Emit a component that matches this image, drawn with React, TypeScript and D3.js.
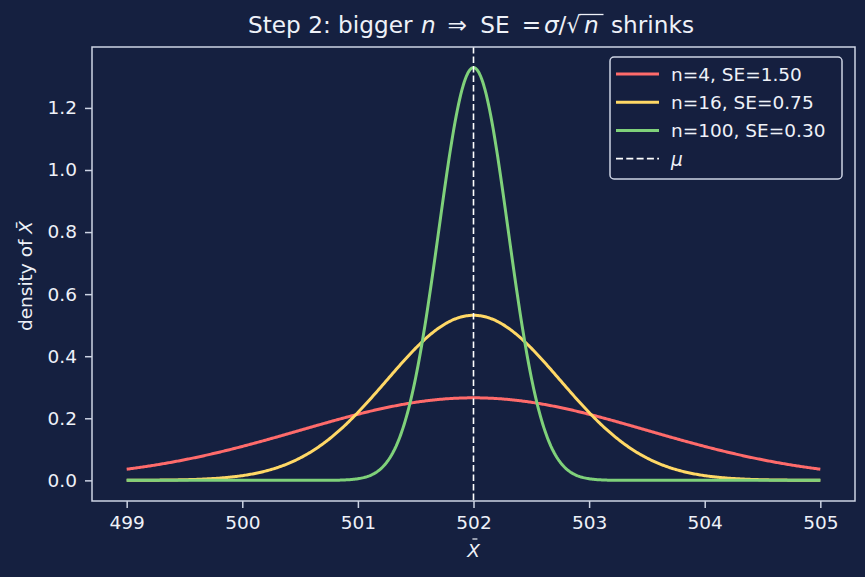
import React, { useEffect, useRef } from 'react';
import * as d3 from 'd3';

const mu = 502;
const sampleSizes = [4, 16, 100];
const standardErrors = [1.5, 0.75, 0.3];
const seriesColors = ['#ff6b6b', '#ffd866', '#7fd17a'];
const xTicks = [499, 500, 501, 502, 503, 504, 505];
const yTicks = [0, 0.2, 0.4, 0.6, 0.8, 1.0, 1.2];
const xDomain = [499, 505];

const W = 865;
const H = 577;
const BG = '#152040';
const FG = '#eef1f8';
const SPINE = '#cdd4e4';
const FONT = 'DejaVu Sans, sans-serif';
const FS = 18.5;

const normalPdf = (x: number, m: number, s: number) =>
  Math.exp(-0.5 * ((x - m) / s) ** 2) / (s * Math.sqrt(2 * Math.PI));

const App = () => {
  const ref = useRef<SVGSVGElement | null>(null);

  useEffect(() => {
    const svg = d3.select(ref.current);
    svg.selectAll('*').remove();

    const left = 92, right = 855, top = 47, bottom = 501;

    const pad = (xDomain[1] - xDomain[0]) * 0.05;
    const x = d3.scaleLinear().domain([xDomain[0] - pad, xDomain[1] + pad]).range([left, right]);
    const yMax = d3.max(standardErrors.map(s => normalPdf(mu, mu, s))) as number;
    const ypad = yMax * 0.05;
    const y = d3.scaleLinear().domain([-ypad, yMax + ypad]).range([bottom, top]);

    svg.append('rect').attr('width', W).attr('height', H).attr('fill', BG);

    const xs = d3.range(0, 601).map(i => xDomain[0] + (i / 600) * (xDomain[1] - xDomain[0]));
    const line = d3.line<[number, number]>().x(d => x(d[0])).y(d => y(d[1]));

    standardErrors.forEach((se, i) => {
      svg.append('path')
        .attr('d', line(xs.map(v => [v, normalPdf(v, mu, se)] as [number, number])))
        .attr('fill', 'none')
        .attr('stroke', seriesColors[i])
        .attr('stroke-width', 3)
        .attr('stroke-linejoin', 'round');
    });

    svg.append('line')
      .attr('x1', x(mu)).attr('x2', x(mu))
      .attr('y1', top).attr('y2', bottom)
      .attr('stroke', '#ffffff')
      .attr('stroke-width', 1.6)
      .attr('stroke-dasharray', '6.5,3');

    svg.append('rect')
      .attr('x', left).attr('y', top)
      .attr('width', right - left).attr('height', bottom - top)
      .attr('fill', 'none').attr('stroke', SPINE).attr('stroke-width', 1.5);

    const xAxis = svg.append('g').attr('transform', `translate(0,${bottom})`)
      .call(d3.axisBottom(x).tickValues(xTicks).tickSize(7).tickPadding(8).tickFormat(d3.format('d')));
    const yAxis = svg.append('g').attr('transform', `translate(${left},0)`)
      .call(d3.axisLeft(y).tickValues(yTicks).tickSize(7).tickPadding(8).tickFormat(d3.format('.1f')));
    [xAxis, yAxis].forEach(g => {
      g.select('.domain').remove();
      g.selectAll('line').attr('stroke', SPINE).attr('stroke-width', 1.5);
      g.selectAll('text').attr('fill', FG).attr('font-family', FONT).attr('font-size', FS);
    });

    // title, pieces placed like matplotlib mathtext
    const tfs = 23.2;
    const ty = 33;
    const piece = (tx: number, s: string, italic = false) =>
      svg.append('text')
        .attr('x', tx).attr('y', ty)
        .attr('fill', FG).attr('font-family', FONT).attr('font-size', tfs)
        .attr('font-style', italic ? 'italic' : 'normal')
        .text(s);
    piece(248, 'Step 2: bigger');
    piece(421, 'n', true);
    piece(447.5, '\u21D2');
    piece(480.2, 'SE');
    piece(521.7, '=');
    piece(544, '\u03C3', true);
    piece(558.5, '/');
    piece(566.5, '\u221A')
      .attr('textLength', 14).attr('lengthAdjust', 'spacingAndGlyphs');
    piece(584, 'n', true);
    piece(611, 'shrinks');
    svg.append('line')
      .attr('x1', 579.5).attr('x2', 603.5)
      .attr('y1', 14.5).attr('y2', 14.5)
      .attr('stroke', FG).attr('stroke-width', 1.3);

    // axis labels
    const xl = svg.append('text')
      .attr('x', x(mu)).attr('y', 557)
      .attr('text-anchor', 'middle')
      .attr('fill', FG).attr('font-family', FONT).attr('font-size', FS)
      .attr('font-style', 'italic').text('X');
    const xlb = (xl.node() as SVGTextElement).getBBox();
    const bx = xlb.x + xlb.width * 0.55;
    svg.append('line')
      .attr('x1', bx - 2).attr('x2', bx + 3)
      .attr('y1', 539).attr('y2', 539)
      .attr('stroke', FG).attr('stroke-width', 1.2);

    const yl = svg.append('text')
      .attr('transform', `translate(32,${(top + bottom) / 2 + 2}) rotate(-90)`)
      .attr('text-anchor', 'middle')
      .attr('fill', FG).attr('font-family', FONT).attr('font-size', FS);
    yl.append('tspan').text('density of ');
    yl.append('tspan').attr('font-style', 'italic').text('X\u0304');

    // legend
    const lx = 610, ly = 57, lw = 232, lh = 122;
    svg.append('rect')
      .attr('x', lx).attr('y', ly).attr('width', lw).attr('height', lh)
      .attr('rx', 4).attr('fill', BG).attr('fill-opacity', 0.85)
      .attr('stroke', SPINE).attr('stroke-width', 1.5);

    const labels = sampleSizes.map((n, i) => `n=${n}, SE=${standardErrors[i].toFixed(2)}`);
    const rowGap = 28.2;
    const row0 = 74;
    labels.forEach((lab, i) => {
      const ry = row0 + i * rowGap;
      svg.append('line')
        .attr('x1', lx + 6).attr('x2', lx + 49)
        .attr('y1', ry).attr('y2', ry)
        .attr('stroke', seriesColors[i]).attr('stroke-width', 3);
      svg.append('text')
        .attr('x', lx + 61).attr('y', ry + 7)
        .attr('fill', FG).attr('font-family', FONT).attr('font-size', FS)
        .text(lab);
    });
    const ry = row0 + 3 * rowGap;
    svg.append('line')
      .attr('x1', lx + 6).attr('x2', lx + 49)
      .attr('y1', ry).attr('y2', ry)
      .attr('stroke', '#ffffff').attr('stroke-width', 1.6)
      .attr('stroke-dasharray', '7,3.3');
    svg.append('text')
      .attr('x', lx + 61).attr('y', ry + 7)
      .attr('fill', FG).attr('font-family', FONT).attr('font-size', FS)
      .attr('font-style', 'italic').text('\u03BC');
  }, []);

  return (
    <svg ref={ref} width={W} height={H} style={{ position: 'absolute', left: 0, top: 0, display: 'block' }} />
  );
};

export default App;
